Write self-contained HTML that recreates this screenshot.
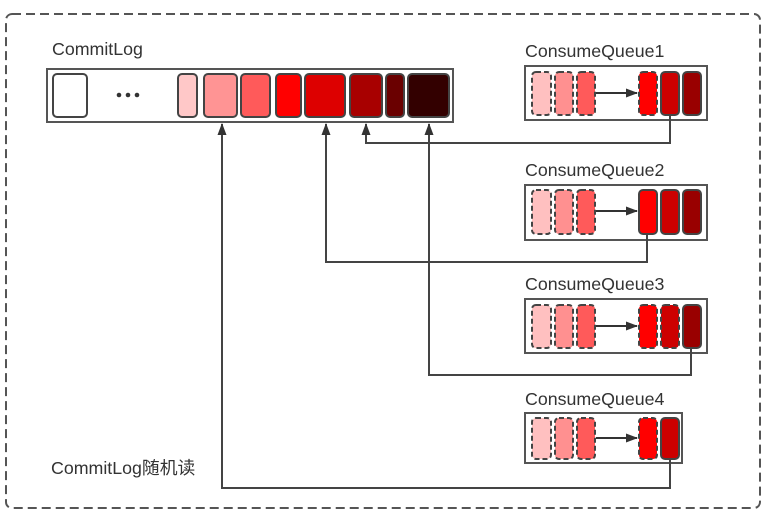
<!DOCTYPE html>
<html><head><meta charset="utf-8"><style>
body{margin:0;background:#fff;width:768px;height:516px;overflow:hidden}
svg{display:block}
text{font-family:"Liberation Sans","Noto Sans CJK SC",sans-serif;font-size:17.8px;fill:#333}
</style></head><body>
<svg width="768" height="516" viewBox="0 0 768 516">
<defs><marker id="a" markerWidth="12" markerHeight="12" refX="11" refY="6" orient="auto" markerUnits="userSpaceOnUse"><path d="M0,1.5 L12,6 L0,10.5 Z" fill="#333"/></marker></defs>
<rect x="6" y="14" width="754" height="494" rx="6" fill="none" stroke="#555" stroke-width="2" stroke-dasharray="9,5"/>
<text x="52" y="55">CommitLog</text>
<rect x="47" y="69" width="406" height="53" fill="#fff" stroke="#555" stroke-width="2"/>
<g stroke="#444" stroke-width="2">
<rect x="53" y="74" width="34" height="43" rx="4" fill="#fff"/>
<rect x="178" y="74" width="19" height="43" rx="4" fill="#ffc8c8"/>
<rect x="204" y="74" width="33" height="43" rx="4" fill="#ff9494"/>
<rect x="241" y="74" width="29" height="43" rx="4" fill="#ff5a5a"/>
<rect x="276" y="74" width="25" height="43" rx="4" fill="#ff0000"/>
<rect x="305" y="74" width="40" height="43" rx="4" fill="#dd0000"/>
<rect x="350" y="74" width="32" height="43" rx="4" fill="#a80000"/>
<rect x="386" y="74" width="18" height="43" rx="4" fill="#6a0000"/>
<rect x="408" y="74" width="41" height="43" rx="4" fill="#330000"/>
</g>
<g fill="#333"><circle cx="119" cy="95" r="2.3"/><circle cx="128" cy="95" r="2.3"/><circle cx="137" cy="95" r="2.3"/></g>

<!-- CQ1 -->
<text x="525" y="57">ConsumeQueue1</text>
<rect x="525" y="66" width="182" height="54" fill="#fff" stroke="#555" stroke-width="2"/>
<g stroke="#444" stroke-width="2">
<rect x="532" y="72" width="19" height="43" rx="4" fill="#ffc0c0" stroke-dasharray="5,3"/>
<rect x="555" y="72" width="18" height="43" rx="4" fill="#ff9090" stroke-dasharray="5,3"/>
<rect x="577" y="72" width="18" height="43" rx="4" fill="#ff5a5a" stroke-dasharray="5,3"/>
<rect x="639" y="72" width="18" height="43" rx="4" fill="#ff0000" stroke-dasharray="5,3"/>
<rect x="661" y="72" width="18" height="43" rx="4" fill="#cc0000"/>
<rect x="683" y="72" width="18" height="43" rx="4" fill="#990000"/>
</g>
<line x1="596" y1="93" x2="637" y2="93" stroke="#333" stroke-width="2" marker-end="url(#a)"/>
<!-- CQ2 -->
<text x="525" y="176">ConsumeQueue2</text>
<rect x="525" y="185" width="182" height="55" fill="#fff" stroke="#555" stroke-width="2"/>
<g stroke="#444" stroke-width="2">
<rect x="532" y="190" width="19" height="44" rx="4" fill="#ffc0c0" stroke-dasharray="5,3"/>
<rect x="555" y="190" width="18" height="44" rx="4" fill="#ff9090" stroke-dasharray="5,3"/>
<rect x="577" y="190" width="18" height="44" rx="4" fill="#ff5a5a" stroke-dasharray="5,3"/>
<rect x="639" y="190" width="18" height="44" rx="4" fill="#ff0000"/>
<rect x="661" y="190" width="18" height="44" rx="4" fill="#cc0000"/>
<rect x="683" y="190" width="18" height="44" rx="4" fill="#990000"/>
</g>
<line x1="596" y1="211" x2="637" y2="211" stroke="#333" stroke-width="2" marker-end="url(#a)"/>
<!-- CQ3 -->
<text x="525" y="290">ConsumeQueue3</text>
<rect x="525" y="299" width="182" height="54" fill="#fff" stroke="#555" stroke-width="2"/>
<g stroke="#444" stroke-width="2">
<rect x="532" y="305" width="19" height="43" rx="4" fill="#ffc0c0" stroke-dasharray="5,3"/>
<rect x="555" y="305" width="18" height="43" rx="4" fill="#ff9090" stroke-dasharray="5,3"/>
<rect x="577" y="305" width="18" height="43" rx="4" fill="#ff5a5a" stroke-dasharray="5,3"/>
<rect x="639" y="305" width="18" height="43" rx="4" fill="#ff0000" stroke-dasharray="5,3"/>
<rect x="661" y="305" width="18" height="43" rx="4" fill="#cc0000" stroke-dasharray="5,3"/>
<rect x="683" y="305" width="18" height="43" rx="4" fill="#990000"/>
</g>
<line x1="596" y1="326" x2="637" y2="326" stroke="#333" stroke-width="2" marker-end="url(#a)"/>
<!-- CQ4 -->
<text x="525" y="405">ConsumeQueue4</text>
<rect x="525" y="413" width="157" height="50" fill="#fff" stroke="#555" stroke-width="2"/>
<g stroke="#444" stroke-width="2">
<rect x="532" y="418" width="19" height="41" rx="4" fill="#ffc0c0" stroke-dasharray="5,3"/>
<rect x="555" y="418" width="18" height="41" rx="4" fill="#ff9090" stroke-dasharray="5,3"/>
<rect x="577" y="418" width="18" height="41" rx="4" fill="#ff5a5a" stroke-dasharray="5,3"/>
<rect x="639" y="418" width="18" height="41" rx="4" fill="#ff0000" stroke-dasharray="5,3"/>
<rect x="661" y="418" width="18" height="41" rx="4" fill="#cc0000"/>
</g>
<line x1="596" y1="438" x2="637" y2="438" stroke="#333" stroke-width="2" marker-end="url(#a)"/>

<g fill="none" stroke="#444" stroke-width="2">
<polyline points="670,115 670,143 366,143 366,124" marker-end="url(#a)"/>
<polyline points="647,234 647,262 326,262 326,124" marker-end="url(#a)"/>
<polyline points="691,348 691,375 429,375 429,124" marker-end="url(#a)"/>
<polyline points="670,459 670,488 222,488 222,124" marker-end="url(#a)"/>
</g>
<text x="51" y="474">CommitLog随机读</text>
</svg>
</body></html>
